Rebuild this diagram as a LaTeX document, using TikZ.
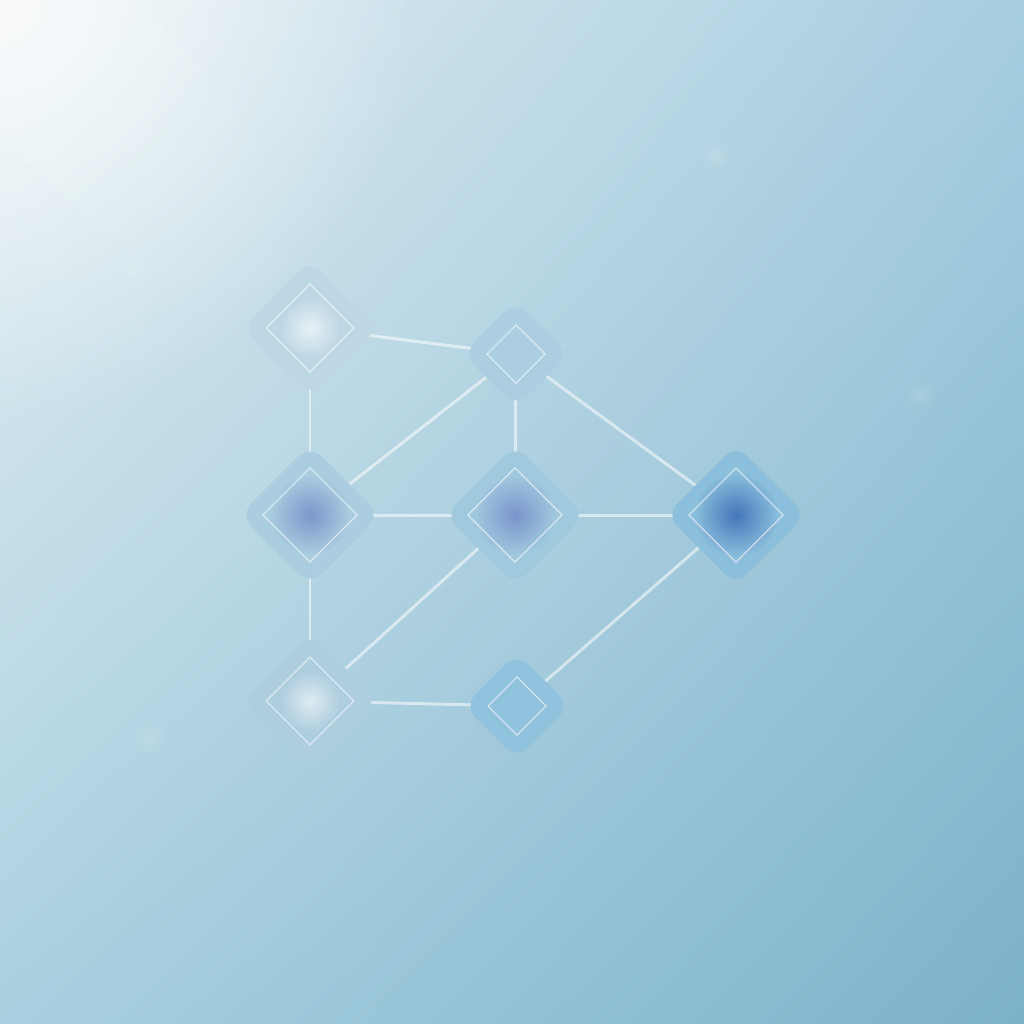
\documentclass[tikz,border=0pt]{standalone}
\usetikzlibrary{shapes, shadings, fadings}

\definecolor{skytop}{RGB}{230,239,243}
\definecolor{skyright}{RGB}{166,205,224}
\definecolor{skyleft}{RGB}{169,208,224}
\definecolor{skydeep}{RGB}{124,178,202}
\definecolor{tileupper}{RGB}{190,215,229}
\definecolor{tilecrest}{RGB}{171,207,225}
\definecolor{tileleft}{RGB}{170,205,223}
\definecolor{tilehub}{RGB}{161,201,222}
\definecolor{tileright}{RGB}{140,191,219}
\definecolor{tilelower}{RGB}{174,206,223}
\definecolor{tiletrough}{RGB}{146,195,222}
\definecolor{glowviolet}{RGB}{100,120,195}
\definecolor{glowblue}{RGB}{50,100,180}

\tikzfading[name=softglow, inner color=transparent!0, outer color=transparent!100]

\pgfdeclarelayer{sky}
\pgfdeclarelayer{links}
\pgfsetlayers{sky,links,main}

\begin{document}
\begin{tikzpicture}[x=0.01cm, y=-0.01cm,
        tile/.style={rectangle, rotate=45, rounded corners=0.16cm, inner sep=0pt, minimum size=#1},
        core/.style={rectangle, rotate=45, draw=white, draw opacity=0.65, line width=0.3pt, inner sep=0pt, minimum size=#1},
        link/.style={white, opacity=0.55, line width=0.85pt}]
        \useasboundingbox (0,0) rectangle (1024,1024);

        % Draw the sky
        \begin{pgfonlayer}{sky}
            \shade[upper left=skytop, upper right=skyright, lower left=skyleft, lower right=skydeep] (0,0) rectangle (1024,1024);
            \fill[white, opacity=0.75, path fading=softglow] (0,0) circle (4.2cm);
            \fill[white, opacity=0.15, path fading=softglow, rotate=-45] (0,0) ellipse (5cm and 1cm);
            \foreach \x/\y in {715/155, 920/395, 135/270, 150/738}
                \fill[white, opacity=0.12, path fading=softglow] (\x,\y) circle (0.18cm);
        \end{pgfonlayer}

        % Draw the tiles
        \foreach \name/\x/\y/\size/\inner/\tint/\glow/\glowop/\glowr in {
                upper/310/328/0.96cm/0.62cm/tileupper/white/0.65/0.3cm,
                crest/516/354/0.75cm/0.41cm/tilecrest/white/0/0.3cm,
                left/310/515/0.99cm/0.665cm/tileleft/glowviolet/0.65/0.4cm,
                hub/515/515/0.99cm/0.665cm/tilehub/glowviolet/0.65/0.4cm,
                right/736/515/0.99cm/0.665cm/tileright/glowblue/0.8/0.42cm,
                lower/310/701/0.96cm/0.62cm/tilelower/white/0.6/0.3cm,
                trough/517/706/0.75cm/0.41cm/tiletrough/white/0/0.3cm}
        {
            \node (\name) [tile=\size, fill=\tint] at (\x,\y) {};
            \fill[\glow, opacity=\glowop, path fading=softglow] (\name) circle (\glowr);
            \node (\name-core) [core=\inner] at (\name) {};
        }

        % Draw the links
        \begin{pgfonlayer}{links}
            \foreach \from/\to in {upper/crest, upper/left, crest/left, crest/hub, crest/right, left/hub, hub/right, left/lower, hub/lower, lower/trough, trough/right}
                \draw [link] (\from.center) -- (\to.center);
        \end{pgfonlayer}
    \end{tikzpicture}
\end{document}
